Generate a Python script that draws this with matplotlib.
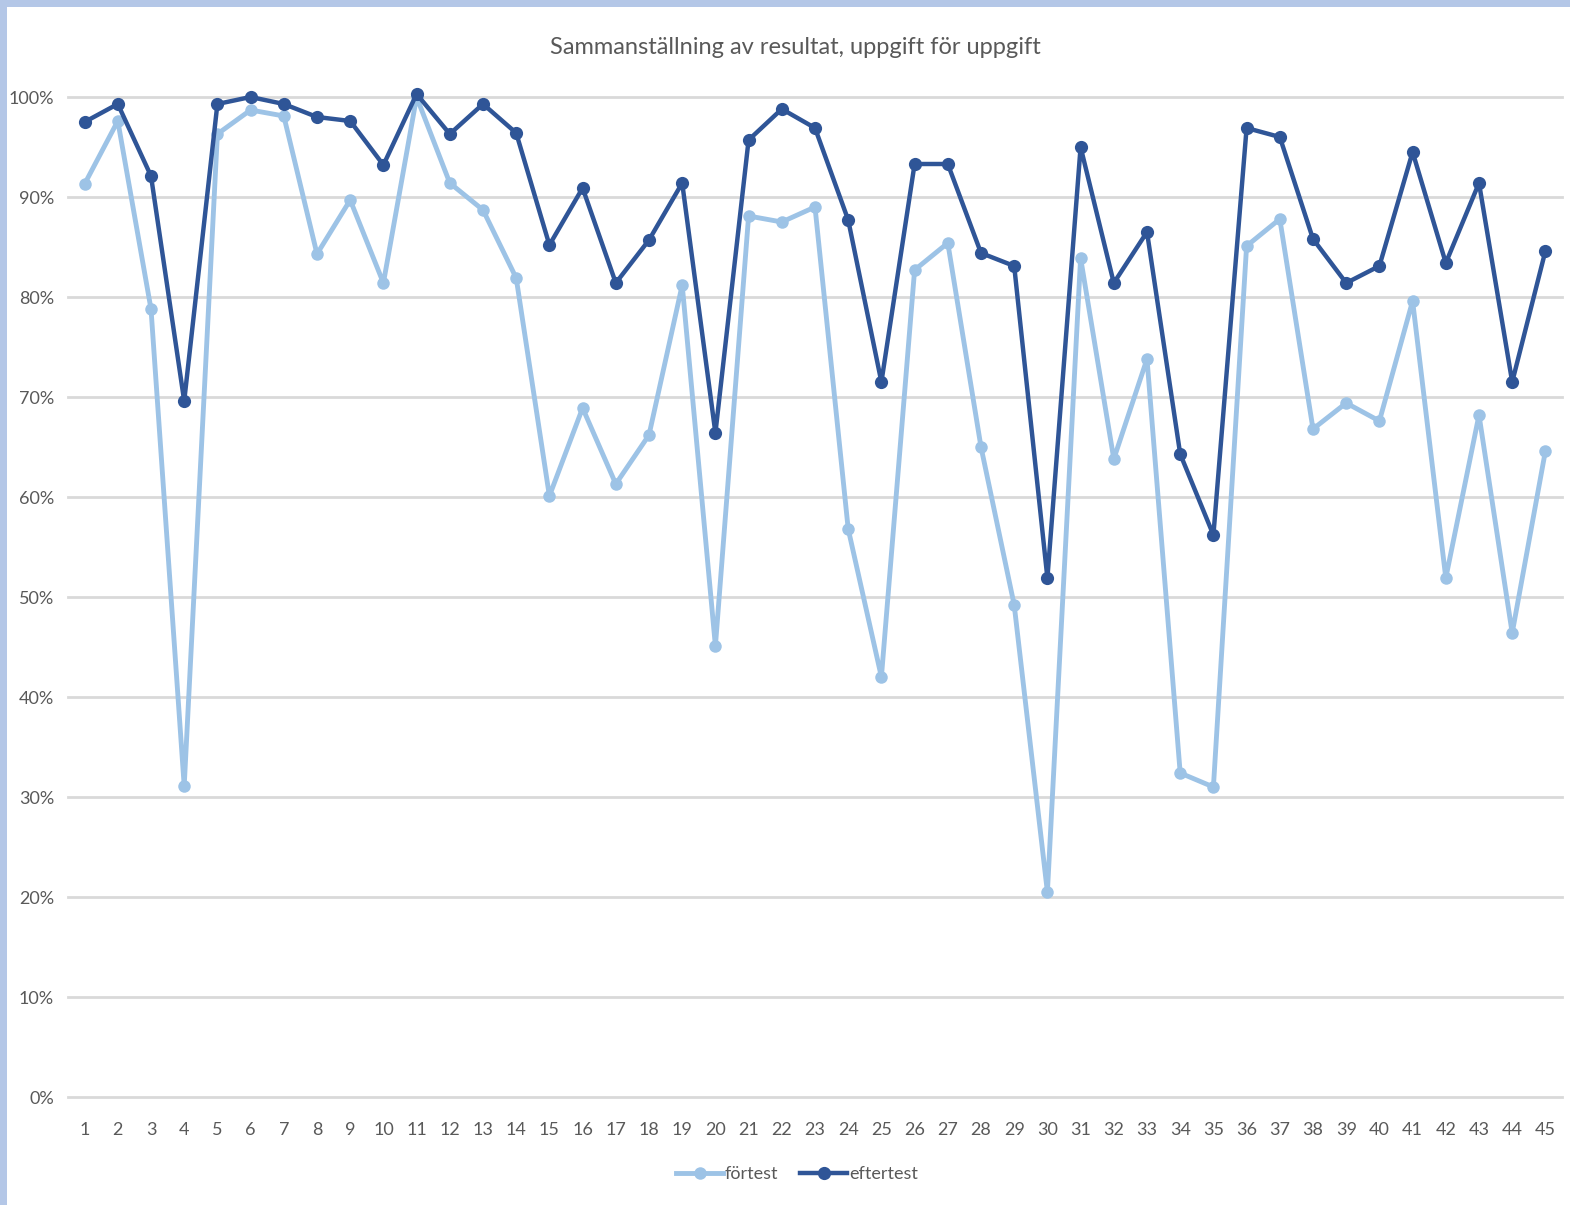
import matplotlib
matplotlib.use("Agg")
import matplotlib.pyplot as plt
from matplotlib.patches import Rectangle
from matplotlib.ticker import FuncFormatter

tasks = list(range(1, 46))
fortest = [91.3, 97.6, 78.8, 31.1, 96.3, 98.7, 98.1, 84.3, 89.7, 81.4,
           100.0, 91.4, 88.7, 81.9, 60.1, 68.9, 61.3, 66.2, 81.2, 45.1,
           88.1, 87.5, 89.0, 56.8, 42.0, 82.7, 85.4, 65.0, 49.2, 20.5,
           83.9, 63.8, 73.8, 32.4, 31.0, 85.1, 87.8, 66.8, 69.4, 67.6,
           79.6, 51.9, 68.2, 46.4, 64.6]
eftertest = [97.5, 99.3, 92.1, 69.6, 99.3, 100.0, 99.3, 98.0, 97.6, 93.2,
             100.3, 96.3, 99.3, 96.4, 85.2, 90.9, 81.4, 85.7, 91.4, 66.4,
             95.7, 98.8, 96.9, 87.7, 71.5, 93.3, 93.3, 84.4, 83.1, 51.9,
             95.0, 81.4, 86.5, 64.3, 56.2, 96.9, 96.0, 85.8, 81.4, 83.1,
             94.5, 83.4, 91.4, 71.5, 84.6]
yticks = [0, 10, 20, 30, 40, 50, 60, 70, 80, 90, 100]
title = "Sammanställning av resultat, uppgift för uppgift"
series_names = ["förtest", "eftertest"]

FONT = ["Lato", "DejaVu Sans"]
TXT = "#595959"
LIGHT = "#9DC3E6"
DARK = "#2F5597"

W, H = 1570, 1205
fig = plt.figure(figsize=(W / 100, H / 100), dpi=100)
fig.patch.set_facecolor("white")

# border (light blue on top and left)
fig.add_artist(Rectangle((0, 1 - 7 / H), 1, 7 / H, transform=fig.transFigure,
                         facecolor="#B4C7E7", edgecolor="none", zorder=10))
fig.add_artist(Rectangle((0, 0), 7 / W, 1, transform=fig.transFigure,
                         facecolor="#B4C7E7", edgecolor="none", zorder=10))

ax = fig.add_axes([68 / W, 1 - 1097 / H, (1562 - 68) / W, (1097 - 97) / H])
ax.set_xlim(0.5, 45.5)
ax.set_ylim(0, 100)

ax.plot(tasks, fortest, color=LIGHT, lw=3.5, marker="o", ms=9,
        markeredgewidth=0, label=series_names[0], clip_on=False, zorder=3)
ax.plot(tasks, eftertest, color=DARK, lw=3.2, marker="o", ms=9.5,
        markeredgewidth=0, label=series_names[1], clip_on=False, zorder=4)

ax.set_yticks(yticks)
ax.yaxis.set_major_formatter(FuncFormatter(lambda v, p: f"{int(v)}%"))
ax.set_xticks(tasks)
ax.set_xticklabels([str(t) for t in tasks])
ax.grid(axis="y", color="#D9D9D9", lw=2)
for gl in ax.get_ygridlines():
    gl.set_clip_on(False)
ax.set_axisbelow(True)
for s in ax.spines.values():
    s.set_visible(False)
ax.tick_params(length=0, labelcolor=TXT, labelsize=13)
ax.tick_params(axis="x", pad=18)
ax.tick_params(axis="y", pad=10)
for lab in ax.get_xticklabels() + ax.get_yticklabels():
    lab.set_family(FONT)

fig.text(795 / W, 1 - 47 / H, title, ha="center", va="center",
         fontsize=17, color=TXT, family=FONT)

leg = fig.legend(loc="center", bbox_to_anchor=(797 / W, 1 - 1174 / H),
                 ncol=2, frameon=False, handlelength=2.6, handletextpad=0.1,
                 columnspacing=1.2, prop={"family": FONT, "size": 13})
for t in leg.get_texts():
    t.set_color(TXT)

fig.savefig("out.png", dpi=100, facecolor="white")
